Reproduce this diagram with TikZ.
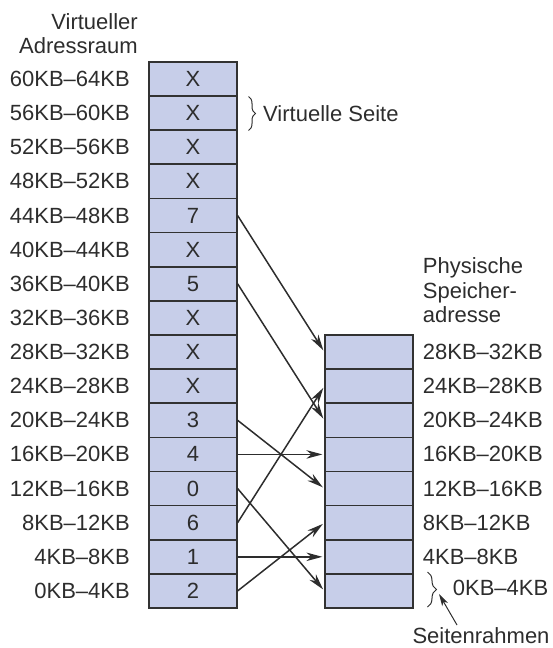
\documentclass[tikz,border=0pt]{standalone}
\usepackage{fontspec}
\setmainfont{Liberation Sans}
\usetikzlibrary{arrows.meta,decorations.pathreplacing}
\definecolor{pagefill}{RGB}{199,206,233}
\definecolor{ink}{RGB}{45,45,45}
\definecolor{edge}{RGB}{50,50,50}
\begin{document}
\begin{tikzpicture}[x=1pt,y=-1pt,
  font=\fontsize{22}{24}\selectfont, text=ink,
  cell/.style={draw=edge, fill=pagefill, line width=1.7pt,
    minimum width=87.5pt, minimum height=34.13pt, inner sep=0pt},
  lbl/.style={inner sep=0pt},
  map/.style={draw=ink, line width=1.5pt,
    -{Stealth[length=16pt,width=8.5pt,inset=5pt]}, shorten >=2pt},
  curly/.style={draw=ink, line width=1pt, decorate,
    decoration={brace, amplitude=#1}}
]
\useasboundingbox (0,0) rectangle (552,648);

% virtual address space: 16 pages of 4 KB
\node[lbl, anchor=base east] (vh1) at (138,29) {Virtueller};
\node[lbl, anchor=base east] (vh2) at (138,53) {Adressraum};
\foreach \p/\c in {15/X,14/X,13/X,12/X,11/7,10/X,9/5,8/X,7/X,6/X,5/3,4/4,3/0,2/6,1/1,0/2}{
  \pgfmathtruncatemacro\lo{4*\p}
  \pgfmathtruncatemacro\hi{4*\p+4}
  \node[cell] (v\p) at (193,{608-(\p+0.5)*34.13}) {\c};
  \node[lbl, anchor=east] (vl\p) at (130,{608-(\p+0.5)*34.13}) {\lo KB–\hi KB};
}

% physical memory: 8 page frames
\node[lbl, anchor=base west] (ph1) at (422.7,273.5) {Physische};
\node[lbl, anchor=base west] (ph2) at (422.7,298) {Speicher-};
\node[lbl, anchor=base west] (ph3) at (422.7,322.7) {adresse};
\foreach \f in {0,...,7}{
  \node[cell] (f\f) at (369,{608-(\f+0.5)*34.13}) {};
}
\foreach \f in {1,...,7}{
  \pgfmathtruncatemacro\lo{4*\f}
  \pgfmathtruncatemacro\hi{4*\f+4}
  \node[lbl, anchor=west] (fl\f) at (422.7,{608-(\f+0.5)*34.13}) {\lo KB–\hi KB};
}
\node[lbl, anchor=west] (fl0) at (452.7,588) {0KB–4KB};

% page table mappings
\draw[map] (v11.east) -- (f7.west);
\draw[map] (v9.east) -- (f5.west);
\draw[map] (v5.east) -- (f3.west);
\draw[map] (v4.east) -- (f4.west);
\draw[map] (v3.east) -- (f0.west);
\draw[map] (v2.east) -- (f6.west);
\draw[map] (v1.east) -- (f1.west);
\draw[map] (v0.east) -- (f2.west);

% annotations
\coordinate (vsA) at (248.5,96.5);
\coordinate (vsB) at (248.5,130.5);
\draw[curly=7pt] (vsA) -- (vsB);
\node[lbl, anchor=west] (vs) at (263,113.3) {Virtuelle Seite};

\coordinate (srA) at (427.5,572);
\coordinate (srB) at (427.5,607);
\coordinate (srTip) at (439,594);
\draw[curly=9pt] (srA) -- (srB);
\node[lbl, anchor=base] (sr) at (481,643.5) {Seitenrahmen};
\coordinate (srFoot) at (457,625);
\draw[draw=ink, line width=1pt, -{Stealth[length=12pt,width=6.5pt,inset=3pt]}] (srFoot) -- (srTip);
\end{tikzpicture}
\end{document}
